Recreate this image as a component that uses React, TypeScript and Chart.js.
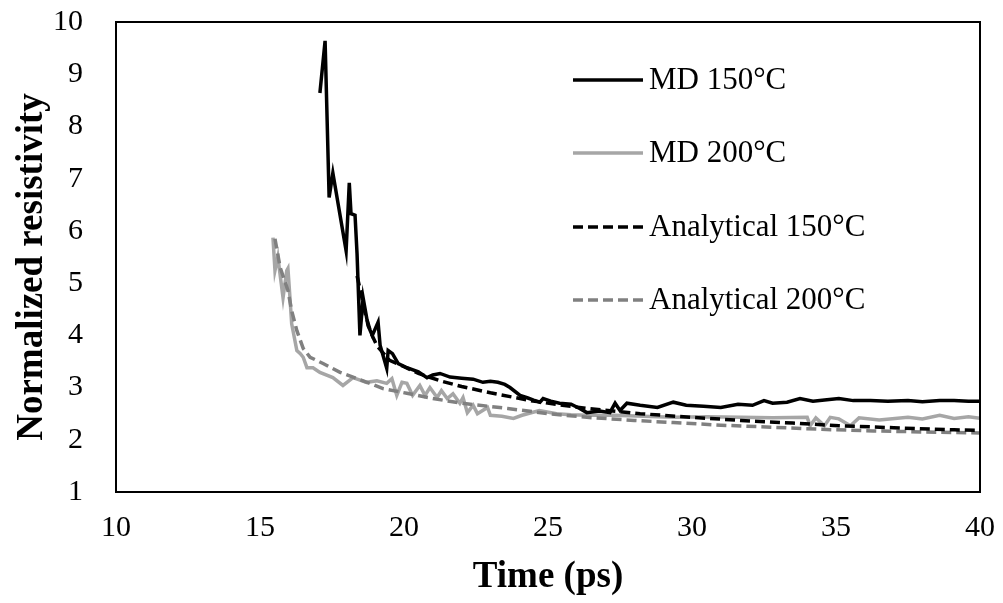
import React, { useEffect, useRef } from "react";
import { Chart, registerables } from "chart.js";

Chart.register(...registerables);

const md150X = [17.08, 17.26, 17.4, 17.53, 17.99, 18.1, 18.16, 18.3, 18.37, 18.47, 18.58, 18.75, 18.9, 19.1, 19.17, 19.4, 19.45, 19.6, 19.8, 20.1, 20.5, 20.8, 21.0, 21.25, 21.6, 22.0, 22.4, 22.74, 23.0, 23.26, 23.5, 23.68, 24.03, 24.3, 24.5, 24.72, 24.83, 25.1, 25.4, 25.8, 26.1, 26.35, 26.8, 27.15, 27.33, 27.5, 27.74, 28.2, 28.8, 29.35, 29.8, 30.4, 31, 31.6, 32.1, 32.5, 32.8, 33.3, 33.75, 34.2, 34.6, 35.1, 35.6, 36.2, 36.8, 37.5, 38.0, 38.6, 39.1, 39.6, 40];
const md150Y = [8.64, 9.64, 6.64, 7.11, 5.62, 6.92, 6.33, 6.3, 5.56, 4.0, 4.72, 4.19, 4.0, 4.25, 3.81, 3.37, 3.71, 3.65, 3.46, 3.38, 3.3, 3.19, 3.24, 3.27, 3.2, 3.18, 3.16, 3.1, 3.12, 3.1, 3.06, 3.0, 2.85, 2.8, 2.76, 2.72, 2.79, 2.74, 2.7, 2.68, 2.6, 2.52, 2.55, 2.52, 2.7, 2.56, 2.7, 2.66, 2.62, 2.72, 2.66, 2.64, 2.62, 2.68, 2.66, 2.75, 2.7, 2.72, 2.79, 2.74, 2.76, 2.79, 2.75, 2.75, 2.74, 2.75, 2.73, 2.75, 2.75, 2.74, 2.74];

const md200X = [15.45, 15.52, 15.62, 15.8, 15.93, 15.97, 16.04, 16.1, 16.28, 16.4, 16.5, 16.63, 16.84, 17.08, 17.53, 17.88, 18.23, 18.7, 19.06, 19.4, 19.58, 19.75, 19.93, 20.1, 20.3, 20.55, 20.73, 20.9, 21.15, 21.3, 21.5, 21.7, 21.94, 22.05, 22.2, 22.4, 22.55, 22.9, 23.0, 23.4, 23.8, 24.1, 24.7, 25.3, 25.8, 26.35, 27.3, 28.3, 29.35, 30.5, 31.7, 32.8, 34.0, 34.1, 34.3, 34.6, 34.8, 35.1, 35.5, 35.8, 36.5, 37.5, 38.0, 38.6, 39.1, 39.6, 40];
const md200Y = [5.87, 5.24, 5.5, 4.72, 5.24, 5.28, 4.72, 4.22, 3.71, 3.65, 3.58, 3.38, 3.38, 3.29, 3.19, 3.04, 3.19, 3.1, 3.13, 3.08, 3.17, 2.85, 3.1, 3.08, 2.85, 3.04, 2.85, 3.0, 2.81, 2.94, 2.79, 2.88, 2.7, 2.81, 2.52, 2.66, 2.5, 2.62, 2.47, 2.45, 2.41, 2.47, 2.56, 2.5, 2.48, 2.47, 2.47, 2.45, 2.43, 2.44, 2.43, 2.42, 2.43, 2.27, 2.42, 2.27, 2.43, 2.4, 2.27, 2.42, 2.38, 2.43, 2.4, 2.47, 2.41, 2.44, 2.41];

const an150X = [18.37, 18.47, 18.65, 18.85, 19.06, 19.5, 20, 20.5, 21.25, 22, 23, 24.4, 25.5, 26.35, 28.2, 30, 31.7, 33.5, 35.1, 37, 39.1, 40];
const an150Y = [5.14, 4.9, 4.42, 4.05, 3.8, 3.52, 3.4, 3.27, 3.13, 3.02, 2.9, 2.75, 2.66, 2.6, 2.5, 2.43, 2.37, 2.32, 2.27, 2.23, 2.19, 2.18];

const an200X = [15.52, 15.7, 15.97, 16.1, 16.28, 16.5, 16.74, 17.19, 17.78, 18.58, 19.27, 20.1, 21.0, 22, 23.6, 25, 26.35, 28, 29.35, 31, 32.8, 34.5, 36.3, 38, 39.1, 40];
const an200Y = [5.85, 5.3, 4.86, 4.47, 4.09, 3.75, 3.58, 3.46, 3.29, 3.13, 2.98, 2.89, 2.79, 2.7, 2.6, 2.5, 2.43, 2.37, 2.33, 2.28, 2.24, 2.2, 2.17, 2.15, 2.14, 2.13];

const seriesNames = ["MD 150°C", "MD 200°C", "Analytical 150°C", "Analytical 200°C"];
const xTitle = "Time (ps)";
const yTitle = "Normalized resistivity";

const pts = (xs: number[], ys: number[]) => xs.map((x, i) => ({ x, y: ys[i] }));

const FONT = "'Liberation Serif', 'Times New Roman', serif";

const legendItems = [
  { name: seriesNames[0], color: "#000000", dash: [] as number[], y: 80 },
  { name: seriesNames[1], color: "#A6A6A6", dash: [] as number[], y: 153 },
  { name: seriesNames[2], color: "#000000", dash: [10, 5], y: 227 },
  { name: seriesNames[3], color: "#808080", dash: [10, 5], y: 300 },
];

const framePlugin = {
  id: "frameLegend",
  afterDraw(chart: any) {
    const { ctx, chartArea } = chart;
    ctx.save();
    ctx.strokeStyle = "#000";
    ctx.lineWidth = 2;
    ctx.setLineDash([]);
    ctx.strokeRect(chartArea.left, chartArea.top, chartArea.right - chartArea.left, chartArea.bottom - chartArea.top);
    ctx.font = `31px ${FONT}`;
    ctx.textBaseline = "middle";
    ctx.textAlign = "left";
    for (const it of legendItems) {
      ctx.strokeStyle = it.color;
      ctx.lineWidth = 3.5;
      ctx.setLineDash(it.dash);
      ctx.beginPath();
      ctx.moveTo(573, it.y);
      ctx.lineTo(643, it.y);
      ctx.stroke();
      ctx.fillStyle = "#000";
      ctx.fillText(it.name, 649, it.y + 1);
    }
    ctx.setLineDash([]);
    ctx.translate(32, 267);
    ctx.rotate(-Math.PI / 2);
    ctx.textAlign = "center";
    ctx.font = `bold 37px ${FONT}`;
    ctx.fillText(yTitle, 0, 0);
    ctx.restore();
  },
};

export default function App() {
  const ref = useRef<HTMLCanvasElement>(null);
  useEffect(() => {
    if (!ref.current) return;
    const chart = new Chart(ref.current, {
      type: "line",
      data: {
        datasets: [
          { label: seriesNames[1], data: pts(md200X, md200Y), borderColor: "#A6A6A6", borderWidth: 3.5, pointRadius: 0, tension: 0, order: 4 },
          { label: seriesNames[3], data: pts(an200X, an200Y), borderColor: "#808080", borderWidth: 3.5, borderDash: [10, 5], pointRadius: 0, tension: 0, order: 3 },
          { label: seriesNames[0], data: pts(md150X, md150Y), borderColor: "#000000", borderWidth: 3.5, pointRadius: 0, tension: 0, order: 2 },
          { label: seriesNames[2], data: pts(an150X, an150Y), borderColor: "#000000", borderWidth: 3.5, borderDash: [10, 5], pointRadius: 0, tension: 0, order: 1 },
        ],
      },
      options: {
        animation: false,
        responsive: false,
        layout: { padding: { top: 22, right: 23, left: 0, bottom: 0 } },
        plugins: { legend: { display: false }, tooltip: { enabled: false } },
        scales: {
          x: {
            type: "linear",
            min: 10,
            max: 40,
            grid: { display: false, drawTicks: false },
            border: { display: false },
            ticks: { stepSize: 5, color: "#000", font: { family: FONT, size: 30 }, padding: 18, maxRotation: 0 },
            title: { display: true, text: xTitle, color: "#000", font: { family: FONT, size: 37, weight: "bold" }, padding: { top: 0, bottom: 3 } },
            afterFit: (s: any) => { s.height = 111; s.paddingLeft = 0; s.paddingRight = 0; },
          },
          y: {
            type: "linear",
            min: 1,
            max: 10,
            grid: { display: false, drawTicks: false },
            border: { display: false },
            ticks: { stepSize: 1, color: "#000", font: { family: FONT, size: 30 }, padding: 33 },
            title: { display: false },
            afterFit: (s: any) => { s.width = 116; s.paddingTop = 0; s.paddingBottom = 0; },
          },
        },
      },
      plugins: [framePlugin],
    });
    return () => chart.destroy();
  }, []);
  return (
    <div style={{ position: "absolute", left: 0, top: 0, width: 1003, height: 603, background: "#fff" }}>
      <canvas ref={ref} width={1003} height={603} style={{ display: "block" }} />
    </div>
  );
}
